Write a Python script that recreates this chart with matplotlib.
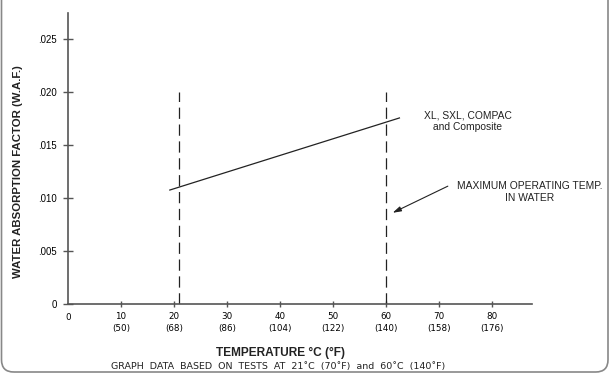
import matplotlib.pyplot as plt
from matplotlib.patches import FancyBboxPatch

# data
temp_c = [10, 20, 30, 40, 50, 60, 70, 80]
temp_f = [50, 68, 86, 104, 122, 140, 158, 176]
waf_ticks = [0, 0.005, 0.010, 0.015, 0.020, 0.025]
waf_labels = ["0", ".005", ".010", ".015", ".020", ".025"]
line_x = [19.2, 62.5]
line_y = [0.01075, 0.01755]
test_temps = [21, 60]
test_top = 0.020

fig = plt.figure(figsize=(6.12, 3.76), dpi=100)
ax = fig.add_axes([68 / 612, 1 - 304 / 376, 464 / 612, 291 / 376])
ax.set_xlim(0, 87.5)
ax.set_ylim(0, 0.02745)

axis_col = "#555555"
for s in ["top", "right"]:
    ax.spines[s].set_visible(False)
for s in ["left", "bottom"]:
    ax.spines[s].set_color(axis_col)
    ax.spines[s].set_linewidth(1.2)

ax.set_xticks(temp_c)
ax.set_xticklabels([f"{c}\n({f})" for c, f in zip(temp_c, temp_f)],
                   fontsize=6.3, family="DejaVu Sans", linespacing=1.5)
ax.tick_params(axis="x", direction="inout", length=5, width=1, color=axis_col, pad=3)
ax.set_yticks(waf_ticks)
ax.set_yticklabels(waf_labels, fontsize=6.9, family="Liberation Sans")
ax.tick_params(axis="y", direction="inout", length=7, width=1, color=axis_col, pad=4.5)
ax.text(0, -0.00085, "0", ha="center", va="top", fontsize=6.3, family="DejaVu Sans")

# test temperature dashed lines
for t in test_temps:
    ax.plot([t, t], [0, test_top], color="#222222", lw=0.9, dashes=(9, 4.5))

ax.plot(line_x, line_y, color="#222222", lw=0.9)

ax.text(75.4, 0.01722, "XL, SXL, COMPAC\nand Composite", ha="center", va="center",
        fontsize=7.4, family="Liberation Sans", color="#222222", linespacing=1.15)
ax.annotate("", xy=(60.75, 0.00849), xytext=(72.1, 0.01123),
            arrowprops=dict(arrowstyle="-|>,head_length=0.5,head_width=0.15",
                            color="#222222", lw=0.8))
ax.text(87, 0.01057, "MAXIMUM OPERATING TEMP.\nIN WATER", ha="center", va="center",
        fontsize=7.4, family="Liberation Sans", color="#222222", linespacing=1.15,
        clip_on=False)

fig.text(18 / 612, 1 - 172 / 376, "WATER ABSORPTION FACTOR (W.A.F.)", rotation=90,
         ha="center", va="center", fontsize=8.2, fontweight="bold", family="Liberation Sans",
         color="#222222")
fig.text(280 / 612, 1 - 353 / 376, "TEMPERATURE °C (°F)", ha="center", va="center",
         fontsize=8.6, fontweight="bold", family="Liberation Sans", color="#222222")
fig.text(278 / 612, 1 - 367 / 376, "GRAPH  DATA  BASED  ON  TESTS  AT  21˚C  (70˚F)  and  60˚C  (140˚F)",
         ha="center", va="center", fontsize=6.8, family="DejaVu Sans", color="#222222")

# rounded frame, open at the top
frame = FancyBboxPatch((1.5 / 612, 4 / 376), 606.5 / 612, 1.2,
                       boxstyle="round,pad=0,rounding_size=0.02",
                       transform=fig.transFigure, fill=False, ec="#888888", lw=1.2,
                       mutation_aspect=612 / 376)
fig.patches.append(frame)

fig.savefig("out.png", dpi=100)
